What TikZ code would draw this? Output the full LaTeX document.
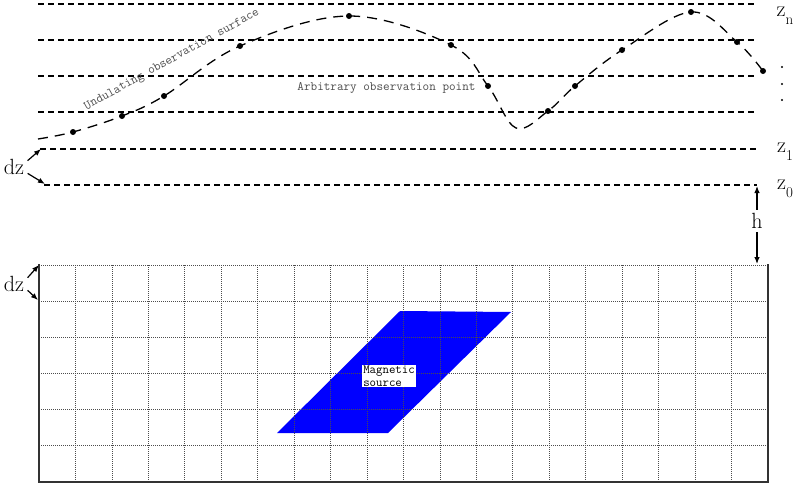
\documentclass[tikz,border=0pt]{standalone}
\usepackage{fontspec}
\usetikzlibrary{positioning, calc, arrows.meta}
\newcommand{\zsub}[1]{\raisebox{-0.35em}{\fontsize{15}{15}\selectfont #1}}
\tikzset{
	lev/.style={line width=1.1pt, dash pattern=on 6pt off 4pt},
	surf/.style={line width=1.3pt, dash pattern=on 10pt off 7pt},
	gridln/.style={line width=0.8pt, dash pattern=on 1pt off 1pt, black!70},
	obspt/.style={circle, fill, inner sep=0pt, minimum size=6pt},
	big/.style={font=\fontsize{22}{24}\selectfont},
	note/.style={font=\ttfamily\fontsize{12.8}{13}\selectfont, text=black!70},
	arr/.style={-{Latex[length=7pt, width=5.5pt]}, line width=1.2pt}
}
\begin{document}
\begin{tikzpicture}[x=1pt, y=-1pt]
		\useasboundingbox (0,0) rectangle (796,485);
		\foreach \y/\x in {4/38, 40/38, 76/38, 112/38, 149/40, 185/44}
			\draw [lev] (\x,\y) -- (757,\y);
		\draw [surf] plot [smooth, tension=0.6] coordinates {(38,139) (73,132) (122,116) (164,96) (240,46) (349,16) (451,45) (488,86) (516,128) (548,111) (575,86) (622,50) (691,12) (737,42) (763,71)};
		\foreach \p [count=\i] in {(73,132), (122,116), (164,96), (240,46), (349,16), (451,45), (488,86), (548,111), (575,86), (622,50), (691,12), (737,42), (763,71)}
			\node (p\i) [obspt] at \p {};
		\node (surflbl) [note, rotate=29] at (172,60) {Undulating observation surface};
		\node (ptlbl) [note, anchor=east] at (479,88) {Arbitrary observation point};
		
		\node (zn) [big] at (785,16) {z\zsub{n}};
		\node (z1) [big] at (785,152) {z\zsub{1}};
		\node (z0) [big] at (785,189) {z\zsub{0}};
		\foreach \y [count=\i] in {67,84,100}
			\node (vd\i) [circle, fill, inner sep=0pt, minimum size=2.2pt] at (782,\y) {};
		
		\node (dzt) [big] at (14,167) {dz};
		\coordinate (z1l) at (41,149);
		\coordinate (z0l) at (45,184);
		\draw [arr] (dzt.25) -- (z1l);
		\draw [arr] (dzt.-25) -- (z0l);
		
		\node (hh) [big] at (757,221) {h};
		\coordinate (z0r) at (757,186);
		\coordinate (gtop) at (757,264);
		\draw [arr] (hh.north) -- (z0r);
		\draw [arr] (hh.south) -- (gtop);
		
		\fill [blue] (400,311) -- (511,312) -- (388,433) -- (277,433) -- cycle;
		\foreach \k in {0,...,5}
			\draw [gridln] (39,{265+36.17*\k}) -- (768,{265+36.17*\k});
		\foreach \j in {1,...,19}
			\draw [gridln] ({39+36.45*\j},265) -- ({39+36.45*\j},482);
		\draw [line width=1.3pt, black!80] (39,264) -- (39,482) -- (768,482) -- (768,264);
		
		\node (dzg) [big] at (14,284) {dz};
		\coordinate (g0) at (39,265);
		\coordinate (g1) at (38,300);
		\draw [arr] (dzg.25) -- (g0);
		\draw [arr] (dzg.-25) -- (g1);
		
		\node (src) [fill=white, inner sep=1pt, align=left, font=\ttfamily\fontsize{12.5}{13}\selectfont] at (389,376) {Magnetic\\source};
\end{tikzpicture}
\end{document}
